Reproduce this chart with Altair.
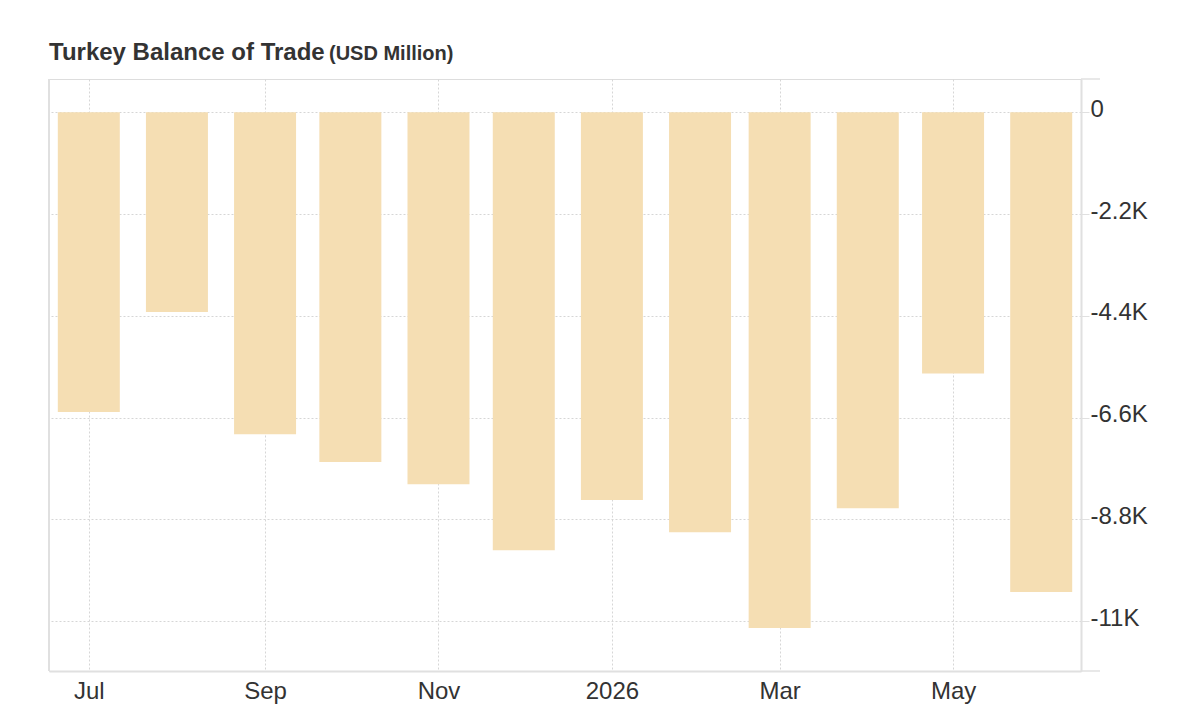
import altair as alt
import pandas as pd

TITLE = "Turkey Balance of Trade"
SUBTITLE = "(USD Million)"
months = ["2025-07-01", "2025-08-01", "2025-09-01", "2025-10-01", "2025-11-01", "2025-12-01",
          "2026-01-01", "2026-02-01", "2026-03-01", "2026-04-01", "2026-05-01", "2026-06-01"]
balance = [-6480, -4320, -6960, -7560, -8040, -9470, -8380, -9080, -11150, -8560, -5650, -10370]
y_ticks = [0, -2200, -4400, -6600, -8800, -11000]
x_ticks = ["2025-07-01", "2025-09-01", "2025-11-01", "2026-01-01", "2026-03-01", "2026-05-01"]

df = pd.DataFrame({"month": months, "value": balance})

W, H = 1032, 592
FONT = "Liberation Sans"
GRID = "#d6d6d6"
AXIS = "#e0e0e0"

x_vals = [alt.DateTime(year=int(s[:4]), month=int(s[5:7]), date=1, utc=True) for s in x_ticks]

xscale = alt.Scale(type="utc", padding=0, nice=False,
                   domain=[alt.DateTime(year=2025, month=6, date=17, utc=True),
                           alt.DateTime(year=2026, month=6, date=15, utc=True)])
yscale = alt.Scale(domain=[-12080, 720], nice=False, zero=False, padding=0)

bars = alt.Chart(df).mark_bar(color="#F5DEB3", size=62).encode(
    x=alt.X("month:T", scale=xscale, title=None,
            axis=alt.Axis(values=x_vals,
                          labelExpr="utcFormat(datum.value, '%m') == '01' ? utcFormat(datum.value, '%Y') : utcFormat(datum.value, '%b')",
                          grid=True, gridDash=[2, 2], gridColor=GRID, gridWidth=1,
                          ticks=False, domain=True, domainColor=AXIS, domainWidth=2,
                          labelFont=FONT, labelFontSize=24, labelColor="#333333",
                          labelPadding=8, labelFlush=False)),
    y=alt.Y("value:Q", scale=yscale, title=None,
            axis=alt.Axis(orient="right", values=y_ticks,
                          labelExpr="datum.value == 0 ? '0' : '-' + format(abs(datum.value) / 1000, '.1~f') + 'K'",
                          grid=True, gridDash=[2, 2], gridColor=GRID, gridWidth=1,
                          ticks=True, tickSize=8, tickColor=AXIS,
                          domain=True, domainColor=AXIS, domainWidth=2,
                          labelFont=FONT, labelFontSize=24, labelColor="#333333",
                          labelPadding=1, labelAlign="left", labelBaseline="middle",
                          labelOffset=-3, labelFlush=False)),
)

# end caps of the right axis (decoration)
caps = alt.Chart(pd.DataFrame({"k": [0, 1]})).mark_rule(color=AXIS, strokeWidth=1.5).encode(
    x=alt.value(W), x2=alt.value(W + 19),
    y=alt.Y("k:Q", scale=alt.Scale(domain=[0, 1]), axis=None),
)

left_line = alt.Chart(pd.DataFrame({"k": [0]})).mark_rule(color=AXIS, strokeWidth=2).encode(
    x=alt.value(0), y=alt.value(0), y2=alt.value(H)
)

head = alt.Chart(pd.DataFrame({"t": [TITLE]})).mark_text(
    font=FONT, fontSize=24, fontWeight="bold", color="#333333",
    align="left", baseline="alphabetic"
).encode(text="t:N", x=alt.value(0), y=alt.value(-19))

sub = alt.Chart(pd.DataFrame({"t": [SUBTITLE]})).mark_text(
    font=FONT, fontSize=20, fontWeight="bold", color="#333333",
    align="left", baseline="alphabetic"
).encode(text="t:N", x=alt.value(280), y=alt.value(-19))

chart = alt.layer(bars, caps, left_line, head, sub).resolve_scale(y="independent").properties(
    width=W, height=H,
    autosize=alt.AutoSizeParams(type="none"),
    padding={"left": 41, "top": 71, "right": 111, "bottom": 36},
).configure_view(stroke=GRID, strokeDash=[2, 2], strokeWidth=1).configure(background="white")

chart.save("out.html", embed_options={"renderer": "svg", "actions": False})
